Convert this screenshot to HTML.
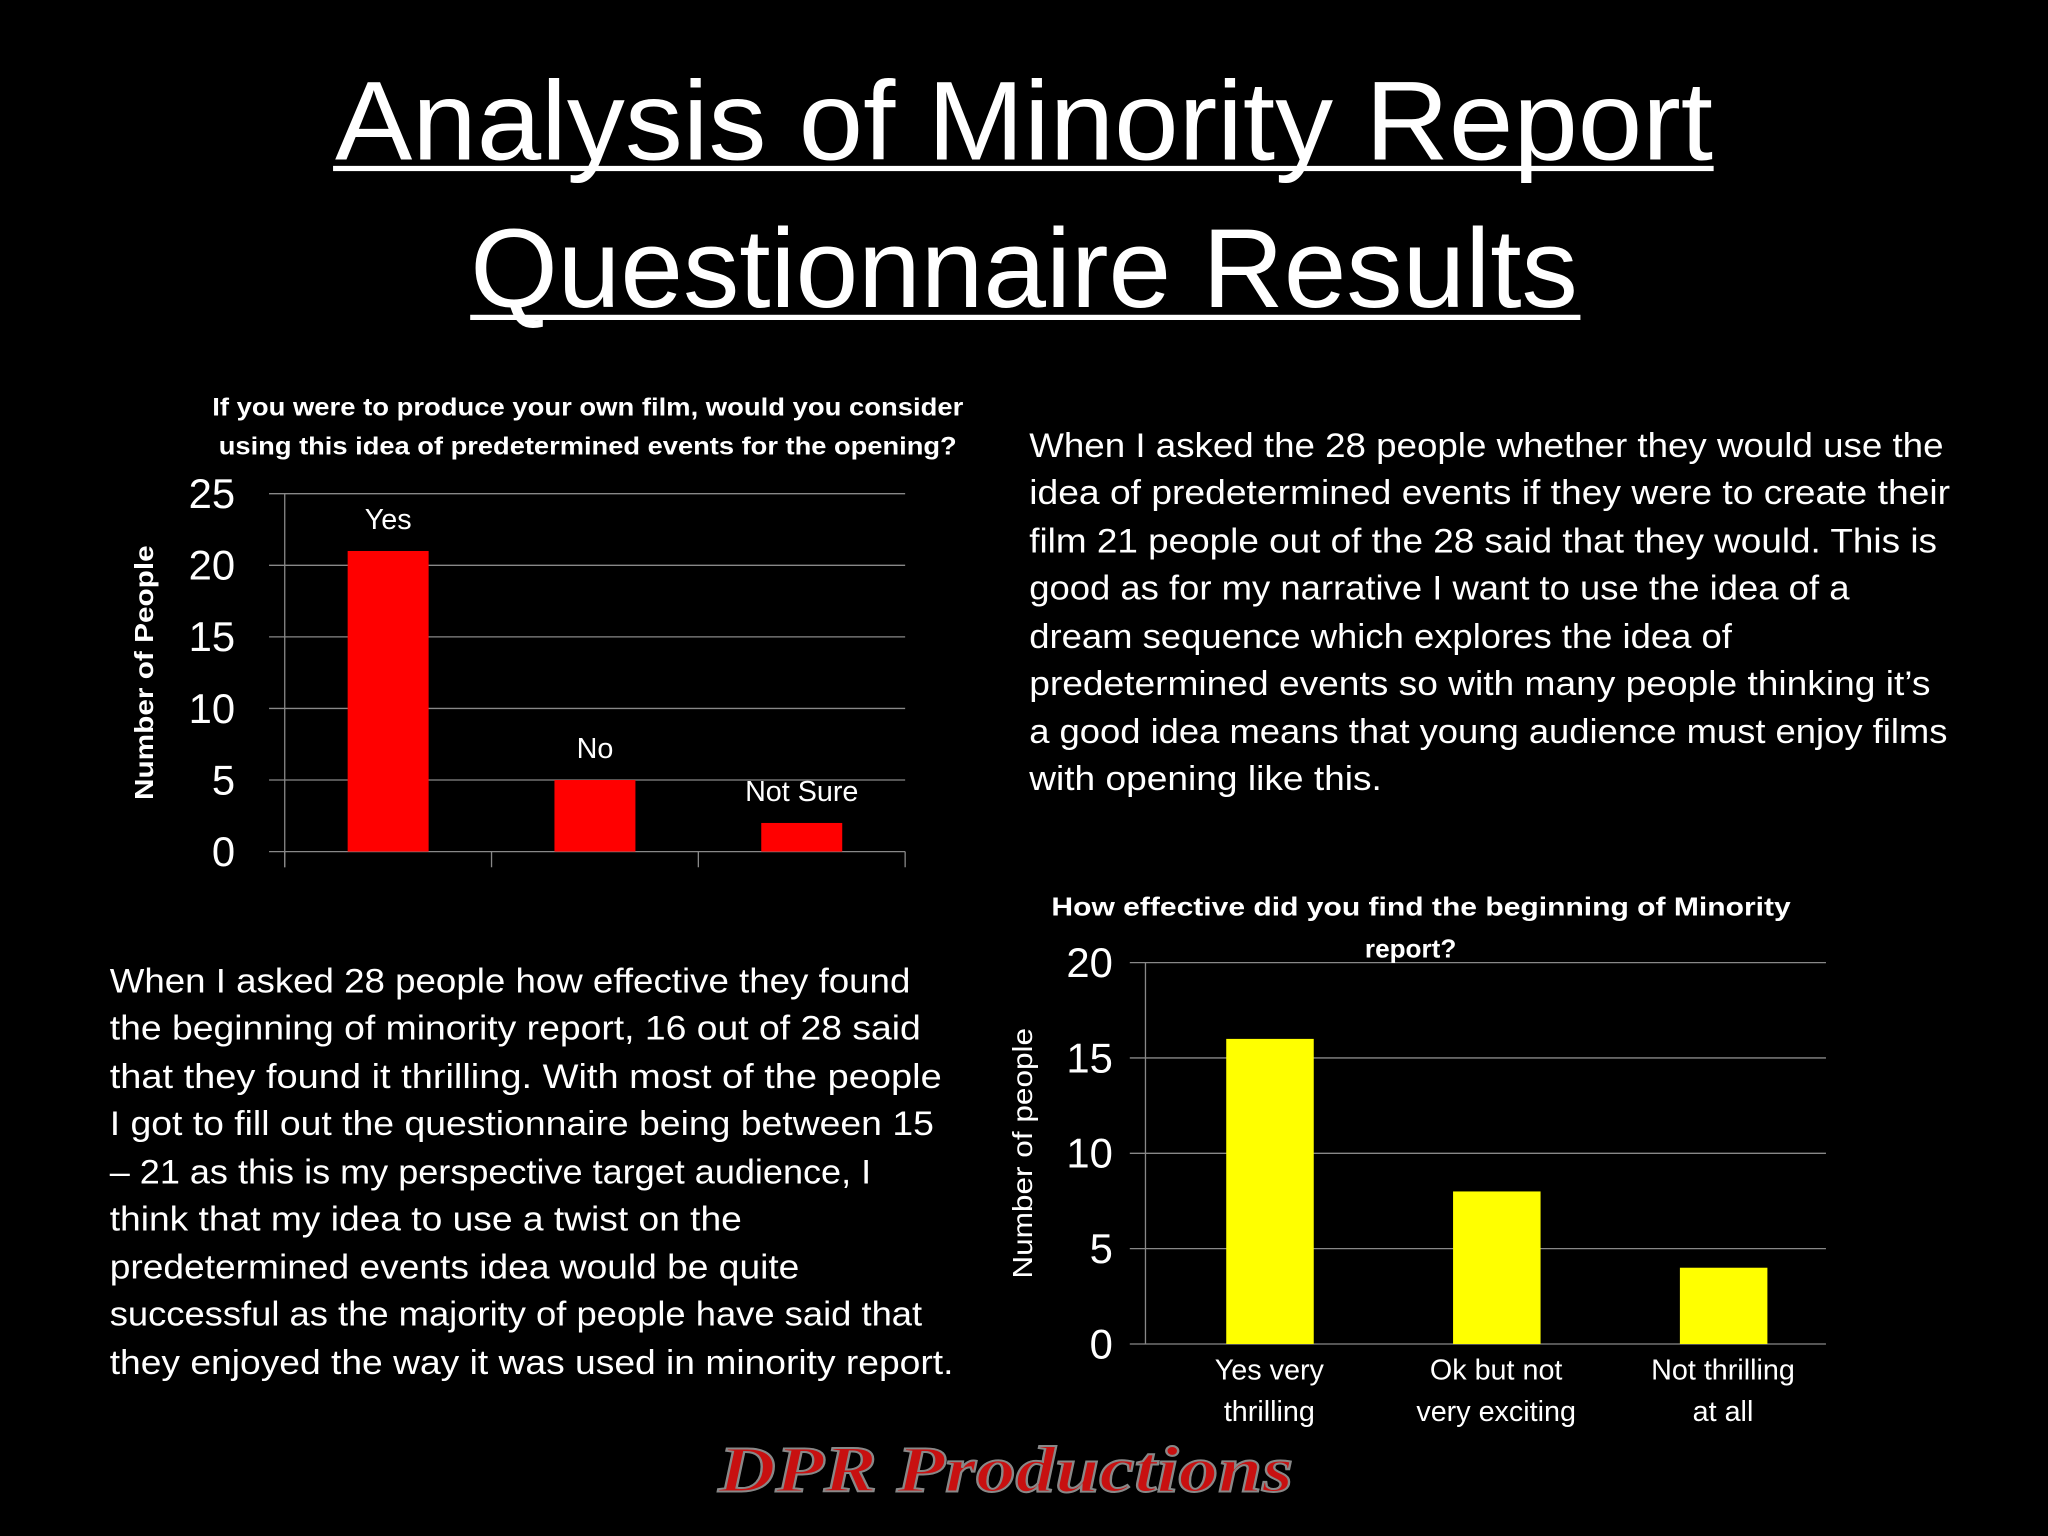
<!DOCTYPE html>
<html><head><meta charset="utf-8"><style>
html,body{margin:0;padding:0;background:#000;}
svg{display:block;}
text{font-family:"Liberation Sans",sans-serif;fill:#fff;}
</style></head><body>
<svg width="2048" height="1536" viewBox="0 0 1568 1176">
<rect width="1568" height="1176" fill="#000"/>
<g>
<text x="784" y="122" font-size="86" text-anchor="middle" textLength="1055" lengthAdjust="spacingAndGlyphs">Analysis of Minority Report</text>
<rect x="255" y="127" width="1057" height="4" fill="#fff"/>
<text x="784" y="235" font-size="86" text-anchor="middle" textLength="848" lengthAdjust="spacingAndGlyphs">Questionnaire Results</text>
<rect x="360" y="241" width="850" height="4" fill="#fff"/>
</g>
<g id="chart1"></g>
<g id="chart2"></g>
<g font-size="26">
<text x="788" y="350" font-size="26" textLength="700" lengthAdjust="spacingAndGlyphs">When I asked the 28 people whether they would use the</text>
<text x="788" y="386" font-size="26" textLength="705" lengthAdjust="spacingAndGlyphs">idea of predetermined events if they were to create their</text>
<text x="788" y="423" font-size="26" textLength="695" lengthAdjust="spacingAndGlyphs">film 21 people out of the 28 said that they would. This is</text>
<text x="788" y="459" font-size="26" textLength="628" lengthAdjust="spacingAndGlyphs">good as for my narrative I want to use the idea of a</text>
<text x="788" y="496" font-size="26" textLength="538" lengthAdjust="spacingAndGlyphs">dream sequence which explores the idea of</text>
<text x="788" y="532" font-size="26" textLength="690" lengthAdjust="spacingAndGlyphs">predetermined events so with many people thinking it’s</text>
<text x="788" y="569" font-size="26" textLength="703" lengthAdjust="spacingAndGlyphs">a good idea means that young audience must enjoy films</text>
<text x="788" y="605" font-size="26" textLength="270" lengthAdjust="spacingAndGlyphs">with opening like this.</text>
</g>
<g>
<text x="84" y="760" font-size="26" textLength="613" lengthAdjust="spacingAndGlyphs">When I asked 28 people how effective they found</text>
<text x="84" y="796" font-size="26" textLength="621" lengthAdjust="spacingAndGlyphs">the beginning of minority report, 16 out of 28 said</text>
<text x="84" y="833" font-size="26" textLength="637" lengthAdjust="spacingAndGlyphs">that they found it thrilling. With most of the people</text>
<text x="84" y="869" font-size="26" textLength="631" lengthAdjust="spacingAndGlyphs">I got to fill out the questionnaire being between 15</text>
<text x="84" y="906" font-size="26" textLength="583" lengthAdjust="spacingAndGlyphs">– 21 as this is my perspective target audience, I</text>
<text x="84" y="942" font-size="26" textLength="484" lengthAdjust="spacingAndGlyphs">think that my idea to use a twist on the</text>
<text x="84" y="979" font-size="26" textLength="528" lengthAdjust="spacingAndGlyphs">predetermined events idea would be quite</text>
<text x="84" y="1015" font-size="26" textLength="622" lengthAdjust="spacingAndGlyphs">successful as the majority of people have said that</text>
<text x="84" y="1052" font-size="26" textLength="646" lengthAdjust="spacingAndGlyphs">they enjoyed the way it was used in minority report.</text>
</g>
<text x="770" y="1142" font-size="50" font-style="italic" font-weight="bold" text-anchor="middle" textLength="440" lengthAdjust="spacingAndGlyphs" style="font-family:'Liberation Serif',serif;fill:#c81010;stroke:#888;stroke-width:1.5">DPR Productions</text>
</svg>
<script>
const c1Categories=["Yes","No","Not Sure"];
const c1Values=[21,5,2];
const c1Ticks=[0,5,10,15,20,25];
const c2Categories=[["Yes very","thrilling"],["Ok but not","very exciting"],["Not thrilling","at all"]];
const c2Values=[16,8,4];
const c2Ticks=[0,5,10,15,20];
const NS="http://www.w3.org/2000/svg";
function mk(p,tag,a,txt){const e=document.createElementNS(NS,tag);for(const k in a)e.setAttribute(k,a[k]);if(txt!==undefined)e.textContent=txt;p.appendChild(e);return e;}
// chart 1
(function(){
const g=document.getElementById('chart1');
const x0=218,x1=693,y0=652,y1=378,max=25;
const y=v=>y0-(v/max)*(y0-y1);
const slot=(x1-x0)/c1Categories.length;
c1Ticks.forEach(t=>{
 const l=mk(g,'line',{x1:x0-12,x2:x1,y1:y(t),y2:y(t),stroke:'#888','stroke-width':1});
 
 
 const tx=mk(g,'text',{x:180,y:y(t)+11,'font-size':32,'text-anchor':'end'},String(t));
 
 
});
mk(g,'line',{x1:x0,x2:x0,y1:y1,y2:y0+12,stroke:'#888'});
for(let i=0;i<=c1Categories.length;i++)mk(g,'line',{x1:x0+i*slot,x2:x0+i*slot,y1:y0,y2:y0+12,stroke:'#888'});
c1Values.forEach((v,i)=>{
 const cx=x0+slot*(i+0.5);
 const b=mk(g,'rect',{x:cx-31,y:y(v),width:62,height:y0-y(v),fill:'#ff0000'});
 
 
 const lb=mk(g,'text',{x:cx,y:y(v)-17,'font-size':22,'text-anchor':'middle'},c1Categories[i]);
 
 
});
const t1=mk(g,'text',{x:450,y:318,'font-size':19,'font-weight':'bold','text-anchor':'middle',textLength:575,lengthAdjust:'spacingAndGlyphs'},'If you were to produce your own film, would you consider');


mk(g,'text',{x:450,y:348,'font-size':19,'font-weight':'bold','text-anchor':'middle',textLength:565,lengthAdjust:'spacingAndGlyphs'},'using this idea of predetermined events for the opening?');
const yt=mk(g,'text',{x:0,y:0,'font-size':20,'font-weight':'bold','text-anchor':'middle',transform:'translate(117,515) rotate(-90)',textLength:195,lengthAdjust:'spacingAndGlyphs'},'Number of People');


})();
// chart 2
(function(){
const g=document.getElementById('chart2');
const x0=877,x1=1398,y0=1029,y1=737,max=20;
const y=v=>y0-(v/max)*(y0-y1);
const slot=(x1-x0)/c2Categories.length;
c2Ticks.forEach(t=>{
 const l=mk(g,'line',{x1:x0-12,x2:x1,y1:y(t),y2:y(t),stroke:'#888','stroke-width':1});
 
 
 const tx=mk(g,'text',{x:852,y:y(t)+11,'font-size':32,'text-anchor':'end'},String(t));
 
 
});
mk(g,'line',{x1:x0,x2:x0,y1:y1,y2:y0,stroke:'#888'});
c2Values.forEach((v,i)=>{
 const cx=x0+slot*(i+0.5)+8;
 const b=mk(g,'rect',{x:cx-33,y:y(v),width:67,height:y0-y(v),fill:'#ffff00'});
 
 
 c2Categories[i].forEach((ln,j)=>{
  const lb=mk(g,'text',{x:cx,y:1056+j*32,'font-size':22,'text-anchor':'middle'},ln);
  
  
 });
});
const t1=mk(g,'text',{x:1088,y:701,'font-size':20,'font-weight':'bold','text-anchor':'middle',textLength:566,lengthAdjust:'spacingAndGlyphs'},'How effective did you find the beginning of Minority');


mk(g,'text',{x:1080,y:733,'font-size':20,'font-weight':'bold','text-anchor':'middle'},'report?');
const yt=mk(g,'text',{x:0,y:0,'font-size':21,'text-anchor':'middle',transform:'translate(790,883) rotate(-90)',textLength:192,lengthAdjust:'spacingAndGlyphs'},'Number of people');


})();
</script>
</body></html>
